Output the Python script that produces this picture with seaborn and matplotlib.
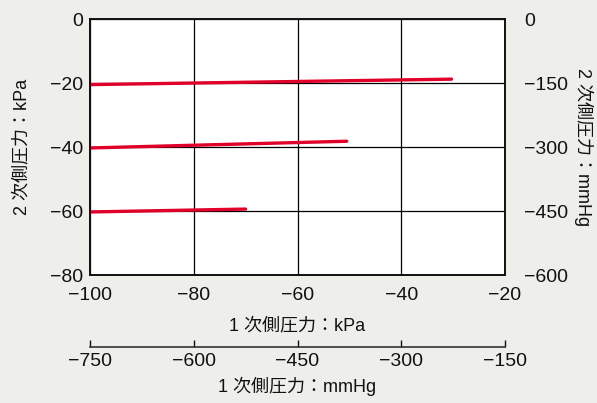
import numpy as np
import pandas as pd
import matplotlib
matplotlib.use("Agg")
import matplotlib.pyplot as plt
import seaborn as sns

# primary-side pressure (kPa) at line start/end, secondary-side pressure (kPa)
series_names = ["a", "a", "b", "b", "c", "c"]
primary_kpa = [-100, -30.3, -100, -50.5, -100, -70]
secondary_kpa = [-20.5, -18.8, -40.3, -38.2, -60.3, -59.4]

x_ticks = [-100, -80, -60, -40, -20]
y_ticks = [0, -20, -40, -60, -80]
mmhg_x_ticks = [-750, -600, -450, -300, -150]
mmhg_y_ticks = [0, -150, -300, -450, -600]

KPA_TO_MMHG = 7.5

df = pd.DataFrame({"line": series_names, "p1": primary_kpa, "p2": secondary_kpa})

sns.set_style("white")
plt.rcParams["font.family"] = ["Liberation Sans", "Noto Sans CJK JP", "DejaVu Sans"]
plt.rcParams["axes.unicode_minus"] = True

bg = "#eeeeea"
red = "#e0002a"
ink = "#111111"

fig = plt.figure(figsize=(5.97, 4.03), dpi=100, facecolor=bg)
ax = fig.add_axes([90 / 597, 1 - 275 / 403, 415 / 597, 256 / 403])
ax.set_facecolor("white")

sns.lineplot(data=df, x="p1", y="p2", units="line", estimator=None,
             color=red, linewidth=2.4, ax=ax, legend=False)

ax.set_xlim(-100, -20)
ax.set_ylim(-80, 0)
ax.set_xticks(x_ticks)
ax.set_yticks(y_ticks)
ax.grid(True, color="black", linewidth=0.9)
ax.set_axisbelow(True)
for s in ax.spines.values():
    s.set_color(ink)
    s.set_linewidth(1.4)
ax.tick_params(axis="x", length=0, labelsize=14, pad=9, colors=ink)
ax.tick_params(axis="y", length=0, labelsize=14, pad=5, colors=ink)
ax.set_xlabel("1 次側圧力：kPa", fontsize=13, labelpad=9, color=ink)
ax.set_ylabel("2 次側圧力：kPa", fontsize=13, labelpad=14, color=ink)

# right axis in mmHg
ry = ax.secondary_yaxis("right", functions=(lambda v: v * KPA_TO_MMHG,
                                            lambda v: v / KPA_TO_MMHG))
ry.set_yticks(mmhg_y_ticks)
ry.tick_params(length=0, labelsize=14, pad=14, colors=ink)
ry.spines["right"].set_visible(False)
ry.set_ylabel("2 次側圧力：mmHg", fontsize=13, rotation=270, labelpad=18, color=ink)

# lower axis in mmHg
bx = ax.secondary_xaxis(-72 / 256, functions=(lambda v: v * KPA_TO_MMHG,
                                              lambda v: v / KPA_TO_MMHG))
bx.set_xticks(mmhg_x_ticks)
bx.tick_params(direction="in", length=5, width=1, labelsize=14, pad=4, colors=ink)
bx.spines["bottom"].set_color("#333333")
bx.spines["bottom"].set_linewidth(1.2)
bx.set_xlabel("1 次側圧力：mmHg", fontsize=13, labelpad=5, color=ink)

fig.savefig("out.png", dpi=100, facecolor=bg)
